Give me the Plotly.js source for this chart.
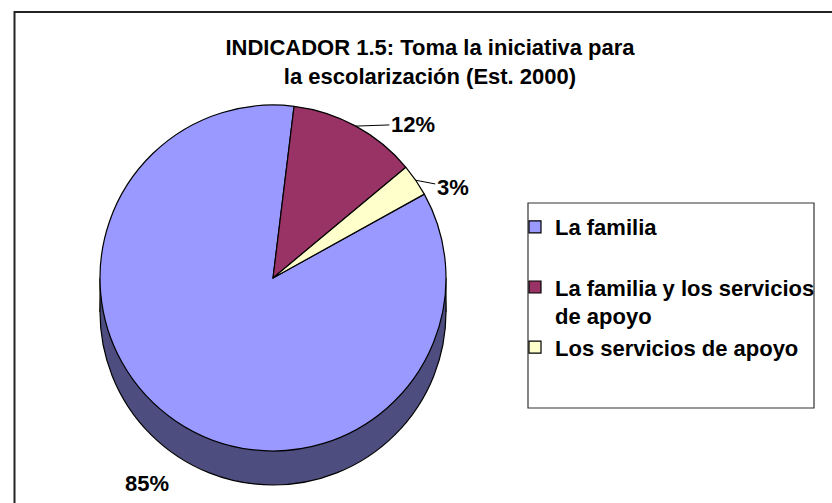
<!DOCTYPE html>
<html>
<head>
<meta charset="utf-8">
<script src="https://cdn.plot.ly/plotly-3.0.1.min.js"></script>
<style>html,body{margin:0;padding:0;background:#fff;}#chart{width:832px;height:503px;}</style>
</head>
<body>
<div id="chart"></div>
<script>
// ---- data ----
const categories = ['La familia', 'La familia y los servicios de apoyo', 'Los servicios de apoyo'];
const values = [85, 12, 3];
const legendText = ['La familia<br> ', 'La familia y los servicios<br>de apoyo', 'Los servicios de apoyo<br> '];
const sliceColors = ['#9999FF', '#993366', '#FFFFCC'];
const titleLines = ['INDICADOR 1.5: Toma la iniciativa para', 'la escolarización (Est. 2000)'];

// ---- geometry (pixels) ----
const W = 832, H = 503;
const cx = 273, cy = 278, R = 173, depth = 34;
const rotation = 61;
const px = x => x / W;
const py = y => 1 - y / H;

// label offsets (px) relative to slice mid-point on rim
const labelOffsets = [[-29, 62, false], [57, -2, true], [37, 7, true]];

const total = values.reduce((a, b) => a + b, 0);
let start = rotation;
const annotations = [];
values.forEach((v, i) => {
  const span = v / total * 360;
  const mid = (start + span / 2) * Math.PI / 180;
  start += span;
  const ex = cx + R * Math.sin(mid), ey = cy - R * Math.cos(mid);
  const [dx, dy, arrow] = labelOffsets[i];
  const txt = Math.round(v / total * 100) + '%';
  if (arrow) {
    annotations.push({x: px(ex), y: py(ey), xref: 'paper', yref: 'paper', text: txt,
      showarrow: true, ax: dx, ay: dy, arrowhead: 0, arrowwidth: 1, arrowcolor: '#000', standoff: 0,
      font: {family: 'Liberation Sans, Arial, sans-serif', size: 22, color: '#000', weight: 'bold'}});
  } else {
    annotations.push({x: px(ex + dx), y: py(ey + dy), xref: 'paper', yref: 'paper', text: txt,
      showarrow: false, xanchor: 'center', yanchor: 'middle',
      font: {family: 'Liberation Sans, Arial, sans-serif', size: 22, color: '#000', weight: 'bold'}});
  }
});

const shapes = [
  // 3D side of pie
  {type: 'circle', layer: 'below', xref: 'paper', yref: 'paper',
   x0: px(cx - R), x1: px(cx + R), y0: py(cy + depth + R), y1: py(cy + depth - R),
   fillcolor: '#4D4D80', line: {color: '#000', width: 1.2}},
  {type: 'rect', layer: 'below', xref: 'paper', yref: 'paper',
   x0: px(cx - R), x1: px(cx + R), y0: py(cy + depth), y1: py(cy),
   fillcolor: '#4D4D80', line: {width: 0}},
  {type: 'line', layer: 'below', xref: 'paper', yref: 'paper',
   x0: px(cx - R), x1: px(cx - R), y0: py(cy + depth), y1: py(cy), line: {color: '#000', width: 1.2}},
  {type: 'line', layer: 'below', xref: 'paper', yref: 'paper',
   x0: px(cx + R), x1: px(cx + R), y0: py(cy + depth), y1: py(cy), line: {color: '#000', width: 1.2}},
  // legend box
  {type: 'rect', xref: 'paper', yref: 'paper',
   x0: px(528), x1: px(814), y0: py(408), y1: py(203), line: {color: '#333', width: 1.2}},
  // outer chart border
  {type: 'rect', xref: 'paper', yref: 'paper',
   x0: px(14.5), x1: px(W + 10), y0: py(H + 10), y1: py(12), line: {color: '#222', width: 2}}
];

const trace = {
  type: 'pie',
  labels: legendText,
  values: values,
  customdata: categories,
  sort: false,
  direction: 'clockwise',
  rotation: rotation,
  textinfo: 'none',
  hoverinfo: 'skip',
  marker: {colors: sliceColors, line: {color: '#000', width: 1.2}},
  domain: {x: [px(cx - R), px(cx + R)], y: [py(cy + R), py(cy - R)]}
};

const layout = {
  width: W, height: H,
  margin: {l: 0, r: 0, t: 0, b: 0},
  paper_bgcolor: '#fff',
  font: {family: 'Liberation Sans, Arial, sans-serif', color: '#000'},
  title: {text: titleLines.join('<br>'), x: px(430), xanchor: 'center', xref: 'paper',
          y: py(55), yanchor: 'top', yref: 'container',
          font: {family: 'Liberation Sans, Arial, sans-serif', size: 22, weight: 'bold', color: '#000'}},
  showlegend: true,
  legend: {x: px(515), xanchor: 'left', y: py(206), yanchor: 'top', valign: 'top',
           bgcolor: 'rgba(0,0,0,0)', borderwidth: 0, itemwidth: 30,
           font: {family: 'Liberation Sans, Arial, sans-serif', size: 22, weight: 'bold', color: '#000'}},
  shapes: shapes,
  annotations: annotations
};

Plotly.newPlot('chart', [trace], layout, {staticPlot: true});
</script>
</body>
</html>
